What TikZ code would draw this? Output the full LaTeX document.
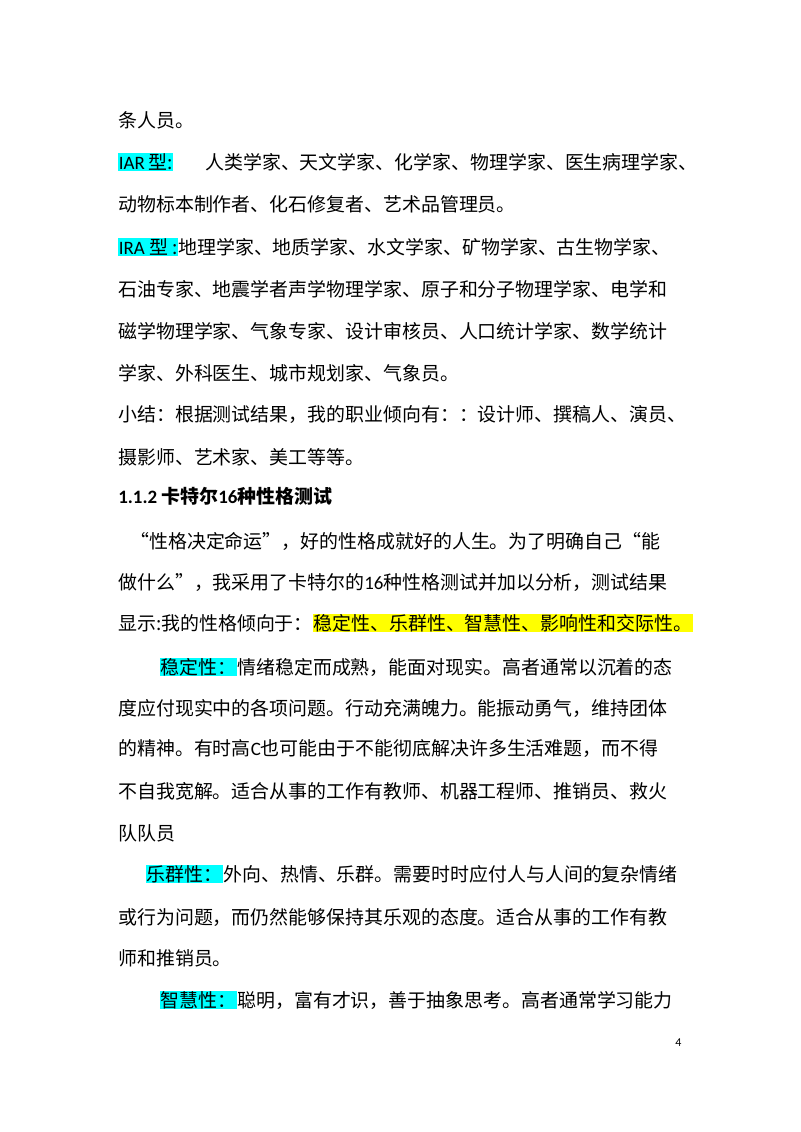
\documentclass[tikz,border=0pt]{standalone}
\usepackage{fontspec}
\setmainfont{Noto Sans CJK SC}
\newfontfamily\lat{Carlito}
\definecolor{hc}{HTML}{00FFFF}
\definecolor{hy}{HTML}{FFFF00}
\newcommand{\hcy}[1]{{\setlength{\fboxsep}{0.5pt}\colorbox{hc}{#1}}}
\newcommand{\hyy}[1]{{\setlength{\fboxsep}{0.5pt}\colorbox{hy}{#1}}}
\begin{document}
\begin{tikzpicture}[x=0.75pt,y=-0.75pt,
  t/.style={anchor=west,inner sep=0pt,font=\fontsize{14.2pt}{16pt}\selectfont}]
\fill[white] (0,0) rectangle (800,1132);
\node[t] (l1) at (118,120) {条人员。};
\node[t] (l2) at (118,162) {\hcy{{\lat IAR}\,型:}};
\node[t] (l2b) at (205,162) {人类学家、天文学家、化学家、物理学家、医生病理学家、};
\node[t] (l3) at (118,204) {动物标本制作者、化石修复者、艺术品管理员。};
\node[t] (l4) at (118,247) {\hcy{{\lat IRA} 型 :}地理学家、地质学家、水文学家、矿物学家、古生物学家、};
\node[t] (l5) at (118,289) {石油专家、地震学者声学物理学家、原子和分子物理学家、电学和};
\node[t] (l6) at (118,331) {磁学物理学家、气象专家、设计审核员、人口统计学家、数学统计};
\node[t] (l7) at (118,373) {学家、外科医生、城市规划家、气象员。};
\node[t] (l8) at (118,415) {小结：根据测试结果，我的职业倾向有：：设计师、撰稿人、演员、};
\node[t] (l9) at (118,457) {摄影师、艺术家、美工等等。};
\node[t,font=\fontsize{14.2pt}{16pt}\selectfont\bfseries] (h) at (118,496) {{\lat\bfseries 1.1.2 }卡特尔{\lat\bfseries 16}种性格测试};
\node[t] (p1) at (130,541) {“性格决定命运”，好的性格成就好的人生。为了明确自己“能};
\node[t] (p2) at (118,583) {做什么”，我采用了卡特尔的{\lat 16}种性格测试并加以分析，测试结果};
\node[t] (p3) at (118,623) {显示:我的性格倾向于：\hyy{稳定性、乐群性、智慧性、影响性和交际性。}};
\node[t] (s1) at (160,667) {\hcy{稳定性：}情绪稳定而成熟，能面对现实。高者通常以沉着的态};
\node[t] (s2) at (118,708) {度应付现实中的各项问题。行动充满魄力。能振动勇气，维持团体};
\node[t] (s3) at (118,749) {的精神。有时高{\lat C}也可能由于不能彻底解决许多生活难题，而不得};
\node[t] (s4) at (118,791) {不自我宽解。适合从事的工作有教师、机器工程师、推销员、救火};
\node[t] (s5) at (118,833) {队队员};
\node[t] (q1) at (146,874) {\hcy{乐群性：}外向、热情、乐群。需要时时应付人与人间的复杂情绪};
\node[t] (q2) at (118,917) {或行为问题，而仍然能够保持其乐观的态度。适合从事的工作有教};
\node[t] (q3) at (118,958) {师和推销员。};
\node[t] (z1) at (160,1000) {\hcy{智慧性：}聪明，富有才识，善于抽象思考。高者通常学习能力};
\node[anchor=west,inner sep=0pt,font=\lat\fontsize{9pt}{10pt}\selectfont] (pg) at (675,1043) {4};
\end{tikzpicture}
\end{document}
